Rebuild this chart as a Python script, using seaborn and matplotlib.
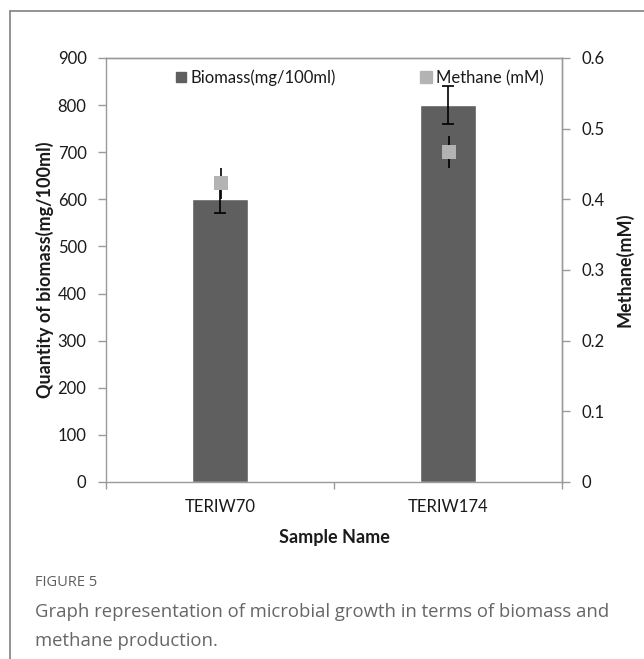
import numpy as np
import pandas as pd
import matplotlib
matplotlib.use("Agg")
import matplotlib.pyplot as plt
from matplotlib.lines import Line2D
import seaborn as sns

# Sample data
samples = ["TERIW70", "TERIW174"]
biomass = [600, 800]          # mg/100ml
biomass_err = [30, 40]
methane = [0.423, 0.467]      # mM
methane_err = [0.022, 0.022]

left_ticks = [0, 100, 200, 300, 400, 500, 600, 700, 800, 900]
right_ticks = [0, 0.1, 0.2, 0.3, 0.4, 0.5, 0.6]
right_labels = ["0", "0.1", "0.2", "0.3", "0.4", "0.5", "0.6"]

sns.set_theme(style="white")
plt.rcParams["font.family"] = ["Lato", "DejaVu Sans"]

BAR = "#5f5f5f"
MARK = "#b3b3b3"
SPINE = "#9a9a9a"
TXT = "#1a1a1a"

fig = plt.figure(figsize=(6.44, 6.59), dpi=100)
ax = fig.add_axes([106 / 644, 1 - 482 / 659, (562 - 106) / 644, (482 - 58) / 659])

df = pd.DataFrame({"sample": samples, "biomass": biomass})
sns.barplot(data=df, x="sample", y="biomass", color=BAR, width=0.245,
            errorbar=None, saturation=1, ax=ax, zorder=2)
xpos = np.arange(len(samples))
ax.errorbar(xpos, biomass, yerr=biomass_err, fmt="none", ecolor="black",
            elinewidth=1.2, capsize=4, capthick=1.2, zorder=3)

ax.set_ylim(0, 900)
ax.set_xlim(-0.5, len(samples) - 0.5)
ax.set_yticks(left_ticks)
ax.set_yticklabels([str(t) for t in left_ticks])
ax.set_xlabel("Sample Name", fontsize=13, fontweight="bold", color=TXT, labelpad=10)
ax.set_ylabel("Quantity of biomass(mg/100ml)", fontsize=13, fontweight="bold",
              color=TXT, labelpad=3)

ax2 = ax.twinx()
ax2.errorbar(xpos + 0.005, methane, yerr=methane_err, fmt="s", color=MARK,
             markersize=10, markeredgewidth=0, ecolor="black", elinewidth=1.2,
             capsize=4, capthick=1.2, zorder=4)
ax2.set_ylim(0, 0.6)
ax2.set_yticks(right_ticks)
ax2.set_yticklabels(right_labels)
ax2.set_ylabel("Methane(mM)", fontsize=13, fontweight="bold", color=TXT, labelpad=8)

for a in (ax, ax2):
    for s in a.spines.values():
        s.set_color(SPINE)
        s.set_linewidth(1.0)
        s.set_visible(True)
    a.tick_params(axis="y", direction="out", length=6, width=1, color=SPINE,
                  labelsize=12, labelcolor=TXT, pad=8)
    a.grid(False)

ax2.spines["bottom"].set_visible(False)
ax2.spines["left"].set_visible(False)

# category boundary ticks on the x axis
ax.set_xticks(xpos)
ax.set_xticklabels(samples)
ax.tick_params(axis="x", which="major", length=0, labelsize=12, labelcolor=TXT, pad=12)
ax.set_xticks(np.arange(-0.5, len(samples), 1.0), minor=True)
ax.tick_params(axis="x", which="minor", direction="out", length=5, width=1,
               color=SPINE, bottom=True)
ax.tick_params(axis="y", left=True)
ax2.tick_params(axis="y", right=True)

handles = [
    Line2D([], [], marker="s", linestyle="none", color=BAR, markersize=7),
    Line2D([], [], marker="s", linestyle="none", color=MARK, markersize=8),
]
leg = fig.legend(handles, ["Biomass(mg/100ml)", "Methane (mM)"],
                 loc="center left", bbox_to_anchor=(159 / 644, 1 - 78 / 659),
                 ncol=2, frameon=False, fontsize=12, handlelength=0.8,
                 handletextpad=0.2, columnspacing=5.0, labelcolor=TXT)

# panel frame (left and top edges)
fig.add_artist(Line2D([9.5 / 644, 9.5 / 644], [0, 1 - 11 / 659],
                      transform=fig.transFigure, color="#8a8a8a", linewidth=1.3))
fig.add_artist(Line2D([9.5 / 644, 1], [1 - 11 / 659, 1 - 11 / 659],
                      transform=fig.transFigure, color="#8a8a8a", linewidth=1.3))

fig.text(35 / 644, 1 - 583 / 659, "FIGURE 5", fontsize=10.5, color="#5e5e5e",
         va="center", family=["Open Sans", "DejaVu Sans"])
fig.text(35 / 644, 1 - 612 / 659,
         "Graph representation of microbial growth in terms of biomass and",
         fontsize=13.3, color="#666666", va="center",
         family=["Open Sans", "DejaVu Sans"])
fig.text(35 / 644, 1 - 641 / 659, "methane production.",
         fontsize=13.3, color="#666666", va="center",
         family=["Open Sans", "DejaVu Sans"])

fig.savefig("out.png", dpi=100, facecolor="white")
